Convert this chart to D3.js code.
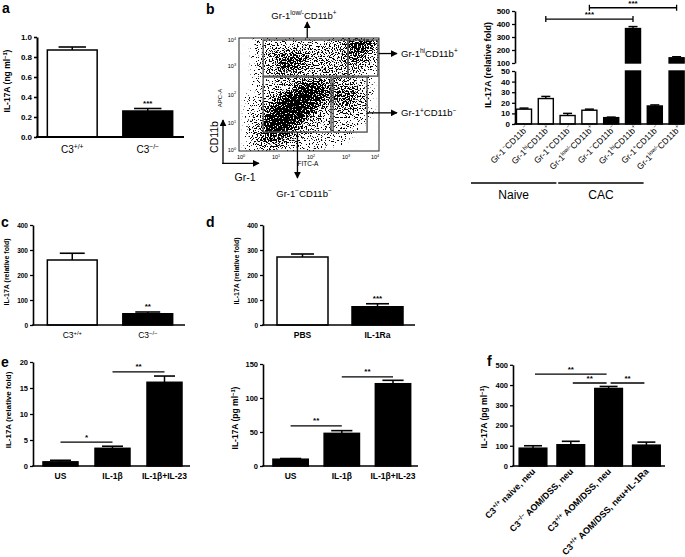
<!DOCTYPE html>
<html><head><meta charset="utf-8">
<script src="https://cdn.jsdelivr.net/npm/d3@7"></script>
<style>body{margin:0;background:#fff}svg{display:block}</style>
</head><body><svg id="c" width="685" height="557"></svg>
<script>
// ---------------- DATA ----------------
// panel a
const aCats = ["C3^{+/+}", "C3^{−/−}"];
const aVals = [0.87, 0.26];
const aErrs = [0.03, 0.025];
const aTicks = [0, 0.2, 0.4, 0.6, 0.8, 1.0];
const aStars = ["", "***"];
// panel b (flow cytometry) - density grid, rows top(high CD11b) -> bottom, cols low -> high Gr-1 (log10 0..4)
const flowTicks = [1, 10, 100, 1000, 10000];
const flowDensity = [
  [0,0,1,1,1,1,1,1,1,1,1,1,1,2,2,3,4,4,4,3],
  [0,0,1,1,2,2,2,2,2,2,2,2,2,2,2,3,4,4,3,2],
  [0,0,1,1,2,3,3,3,3,3,2,2,2,2,2,3,3,3,2,1],
  [0,0,1,2,2,3,4,4,3,3,2,2,2,2,2,2,3,2,2,1],
  [0,0,1,1,2,3,3,3,3,2,2,2,2,2,2,2,2,2,1,1],
  [0,0,1,1,1,2,2,2,2,2,2,2,2,2,2,2,2,1,1,0],
  [0,0,1,1,1,2,2,2,3,4,4,4,3,2,2,2,2,1,1,0],
  [0,0,1,1,2,2,2,3,4,5,5,4,3,3,3,3,3,2,1,0],
  [0,1,1,1,2,3,4,5,5,5,5,4,3,3,3,3,3,2,1,0],
  [0,1,1,2,3,4,5,5,5,5,4,3,2,2,3,3,2,2,1,0],
  [0,1,1,2,4,5,5,5,5,4,3,2,2,2,2,2,2,1,1,0],
  [0,1,1,3,5,5,5,5,4,3,2,2,1,1,1,1,1,1,0,0],
  [0,1,2,3,5,5,5,4,3,2,2,1,1,1,1,1,1,0,0,0],
  [0,1,2,3,4,4,4,3,2,2,1,1,1,1,1,1,0,0,0,0],
  [0,1,2,3,3,3,3,2,2,1,1,1,1,1,1,0,0,0,0,0],
  [0,1,1,2,2,2,2,1,1,1,1,1,0,0,0,0,0,0,0,0]
];
// gates in log10 units: [x0,x1,y0,y1]
const flowGates = [[0.69,3.11,2.65,3.93],[3.11,3.97,2.65,3.93],[0.69,2.63,0.67,2.62],[2.69,3.66,0.67,2.62]];
const flowLabels = ["Gr-1^{low/-}CD11b^{+}", "Gr-1^{hi}CD11b^{+}", "Gr-1^{+}CD11b^{−}", "Gr-1^{−}CD11b^{−}"];
// panel b bars
const bCats = ["Gr-1^{−}CD11b^{−}","Gr-1^{hi}CD11b^{+}","Gr-1^{+}CD11b^{−}","Gr-1^{low/-}CD11b^{+}",
               "Gr-1^{−}CD11b^{−}","Gr-1^{hi}CD11b^{+}","Gr-1^{+}CD11b^{−}","Gr-1^{low/-}CD11b^{+}"];
const bVals = [14, 24, 8, 13, 6, 365, 17, 140];
const bErrs = [1, 2, 2, 1, 0.5, 15, 1, 8];
const bTicksLo = [0, 10, 20, 30, 40, 50];
const bTicksHi = [100, 200, 300, 400, 500];
const bGroups = ["Naive", "CAC"];
const bSig = [[1, 5, 438, "***"], [3, 7, 525, "***"]];
// panel c
const cCats = ["C3^{+/+}", "C3^{−/−}"];
const cVals = [260, 45];
const cErrs = [27, 7];
const cTicks = [0, 100, 200, 300, 400];
const cStars = ["", "**"];
// panel d
const dCats = ["PBS", "IL-1Ra"];
const dVals = [272, 73];
const dErrs = [12, 12];
const dTicks = [0, 100, 200, 300, 400];
const dStars = ["", "***"];
// panel e
const eCats = ["US", "IL-1β", "IL-1β+IL-23"];
const eLVals = [0.8, 3.4, 16.1];
const eLErrs = [0.3, 0.4, 1.2];
const eLTicks = [0, 5, 10, 15, 20];
const eLSig = [[0, 1, 4.6, "*"], [1, 2, 18.1, "**"]];
const eRVals = [10, 48, 121];
const eRErrs = [1, 4, 5];
const eRTicks = [0, 50, 100, 150];
const eRSig = [[0, 1, 59, "**"], [1, 2, 131, "**"]];
// panel f
const fCats = ["C3^{+/+} naive, neu", "C3^{−/−} AOM/DSS, neu", "C3^{+/+} AOM/DSS, neu", "C3^{+/+} AOM/DSS, neu+IL-1Ra"];
const fVals = [88, 105, 383, 103];
const fErrs = [12, 17, 10, 15];
const fTicks = [0, 100, 200, 300, 400, 500];
const fSig = [[0, 2, 454, "**"], [1, 2, 410, "**"], [2, 3, 410, "**"]];

// ---------------- HELPERS ----------------
const FONT = "Arial, 'Liberation Sans', Helvetica, sans-serif";
const svg = d3.select("#c").attr("font-family", FONT);
const WHITE = "#fff", BLACK = "#000";

function rich(t, str, fs) {
  const re = /\^\{([^}]*)\}/g; let last = 0, m; const parts = [];
  while ((m = re.exec(str))) { if (m.index > last) parts.push([str.slice(last, m.index), false]); parts.push([m[1], true]); last = re.lastIndex; }
  if (last < str.length) parts.push([str.slice(last), false]);
  let cur = 0;
  parts.forEach(([s, sup]) => {
    const ts = t.append("tspan").text(s);
    const target = sup ? -fs * 0.38 : 0;
    if (target !== cur) { ts.attr("dy", target - cur); cur = target; }
    if (sup) ts.attr("font-size", fs * 0.68);
  });
  return t;
}
function txt(x, y, str, fs, opt = {}) {
  const t = svg.append("text").attr("x", x).attr("y", y).attr("font-size", fs)
    .attr("text-anchor", opt.anchor || "middle").attr("font-weight", opt.bold === false ? "normal" : "bold");
  if (opt.rot !== undefined) t.attr("transform", `rotate(${opt.rot},${x},${y})`);
  return rich(t, str, fs);
}
function letter(x, y, s) { svg.append("text").attr("x", x).attr("y", y).attr("font-size", 14).attr("font-weight", "bold").text(s); }
function styleAxis(ax, fs, sw) {
  ax.attr("font-family", FONT);
  ax.select(".domain").attr("stroke-width", sw);
  ax.selectAll(".tick line").attr("stroke-width", sw * 0.8);
  ax.selectAll(".tick text").attr("font-size", fs).attr("font-weight", "bold").attr("fill", "#000");
}

function barChart(o) {
  const g = svg.append("g");
  const n = o.vals.length;
  const x = d3.scaleBand().domain(d3.range(n)).range(o.xRange).paddingInner(o.pad).paddingOuter(o.pad / 2);
  const y = d3.scaleLinear().domain(o.yDomain).range(o.yRange);
  const sw = o.sw || 1.6;
  const capW = x.bandwidth() * (o.cap || 0.55);
  o.vals.forEach((v, i) => {
    const cx = x(i) + x.bandwidth() / 2;
    g.append("line").attr("x1", cx).attr("x2", cx).attr("y1", y(v)).attr("y2", y(v + o.errs[i])).attr("stroke", "#000").attr("stroke-width", 1.5);
    g.append("line").attr("x1", cx - capW / 2).attr("x2", cx + capW / 2).attr("y1", y(v + o.errs[i])).attr("y2", y(v + o.errs[i])).attr("stroke", "#000").attr("stroke-width", 1.6);
  });
  g.selectAll("rect.bar").data(o.vals).join("rect").attr("class", "bar")
    .attr("x", (d, i) => x(i)).attr("width", x.bandwidth())
    .attr("y", d => y(d)).attr("height", d => y(0) - y(d))
    .attr("fill", (d, i) => o.fills[i]).attr("stroke", "#000").attr("stroke-width", 1.5);
  const ax = g.append("g").attr("transform", `translate(${o.axisX},0)`)
    .call(d3.axisLeft(y).tickValues(o.ticks).tickFormat(o.fmt || d3.format("")).tickSize(3).tickSizeOuter(0).tickPadding(2));
  styleAxis(ax, o.tickFs, sw);
  g.append("line").attr("x1", o.axisX - sw / 2).attr("x2", o.axisEnd).attr("y1", y(0)).attr("y2", y(0)).attr("stroke", "#000").attr("stroke-width", sw);
  if (o.stars) o.stars.forEach((s, i) => {
    if (!s) return;
    svg.append("text").attr("x", x(i) + x.bandwidth() / 2).attr("y", y(o.vals[i] + o.errs[i]) - 3)
      .attr("text-anchor", "middle").attr("font-size", o.starFs || 8).attr("font-weight", "bold").text(s);
  });
  if (o.sig) o.sig.forEach(([i, j, v, s]) => {
    const c1 = x(i) + x.bandwidth() / 2 + (o.sigInset || 0), c2 = x(j) + x.bandwidth() / 2 - (o.sigInset || 0);
    g.append("line").attr("x1", c1).attr("x2", c2).attr("y1", y(v)).attr("y2", y(v)).attr("stroke", "#000").attr("stroke-width", 1.4);
    g.append("text").attr("x", (c1 + c2) / 2).attr("y", y(v) - 2.5).attr("text-anchor", "middle")
      .attr("font-size", o.starFs || 8).attr("font-weight", "bold").text(s);
  });
  if (o.cats && o.labelY) o.cats.forEach((c, i) => txt(x(i) + x.bandwidth() / 2, o.labelY, c, o.labelFs, { bold: o.labelBold }));
  return { g, x, y };
}

// ---------------- PANEL a ----------------
letter(2, 13, "a");
barChart({ vals: aVals, errs: aErrs, fills: [WHITE, BLACK], yDomain: [0, 1], yRange: [137, 37], ticks: aTicks,
  fmt: d3.format(".1f"), xRange: [34.5, 185.5], pad: 0.34, axisX: 37, axisEnd: 184, tickFs: 8, sw: 2,
  stars: aStars, cats: aCats, labelY: 153, labelFs: 10, labelBold: false });
txt(10, 81, "IL-17A (ng ml^{−1})", 8.5, { rot: -90 });

// ---------------- PANEL b flow ----------------
letter(206, 14, "b");
const defs = svg.append("defs");
defs.append("marker").attr("id", "arr").attr("viewBox", "0 0 10 10").attr("refX", 9).attr("refY", 5)
  .attr("markerUnits", "userSpaceOnUse").attr("markerWidth", 7).attr("markerHeight", 7).attr("orient", "auto")
  .append("path").attr("d", "M0,0L10,5L0,10z").attr("fill", "#000");
const fx = d3.scaleLog().domain([1, 1e4]).range([239, 379]);
const fy = d3.scaleLog().domain([1, 1e4]).range([151, 38]);
const filt = defs.append("filter").attr("id", "speckle").attr("filterUnits", "userSpaceOnUse")
  .attr("x", 239).attr("y", 38).attr("width", 140).attr("height", 113).attr("color-interpolation-filters", "sRGB");
filt.append("feGaussianBlur").attr("in", "SourceGraphic").attr("stdDeviation", 2.6).attr("result", "dens");
filt.append("feTurbulence").attr("type", "fractalNoise").attr("baseFrequency", 0.75).attr("numOctaves", 1).attr("seed", 7).attr("result", "noise");
filt.append("feColorMatrix").attr("in", "noise").attr("type", "matrix")
  .attr("values", "0 0 0 0 0  0 0 0 0 0  0 0 0 0 0  3 0 0 0 -1").attr("result", "n2");
filt.append("feComposite").attr("in", "dens").attr("in2", "n2").attr("operator", "arithmetic")
  .attr("k1", 0).attr("k2", 1).attr("k3", -1).attr("k4", 0.5).attr("result", "diff");
const ct = filt.append("feComponentTransfer").attr("in", "diff").attr("result", "thr");
ct.append("feFuncA").attr("type", "linear").attr("slope", 14).attr("intercept", -7);
filt.append("feFlood").attr("flood-color", "#000").attr("result", "blk");
filt.append("feComposite").attr("in", "blk").attr("in2", "thr").attr("operator", "in");

const nR = flowDensity.length, nC = flowDensity[0].length;
const cells = [];
flowDensity.forEach((row, r) => row.forEach((v, c) => cells.push({ r, c, v })));
svg.append("g").attr("filter", "url(#speckle)").selectAll("rect").data(cells).join("rect")
  .attr("x", d => fx(10 ** (d.c * 4 / nC))).attr("width", d => fx(10 ** ((d.c + 1) * 4 / nC)) - fx(10 ** (d.c * 4 / nC)))
  .attr("y", d => fy(10 ** (4 - d.r * 4 / nR))).attr("height", d => fy(10 ** (4 - (d.r + 1) * 4 / nR)) - fy(10 ** (4 - d.r * 4 / nR)))
  .attr("fill", "#000").attr("fill-opacity", d => d.v / 5);
svg.append("rect").attr("x", 239).attr("y", 38).attr("width", 140).attr("height", 113).attr("fill", "none").attr("stroke", "#222").attr("stroke-width", 1);
svg.selectAll("rect.gate").data(flowGates).join("rect").attr("class", "gate")
  .attr("x", d => fx(10 ** d[0])).attr("width", d => fx(10 ** d[1]) - fx(10 ** d[0]))
  .attr("y", d => fy(10 ** d[3])).attr("height", d => fy(10 ** d[2]) - fy(10 ** d[3]))
  .attr("fill", "none").attr("stroke", "#555").attr("stroke-width", 1.4);
flowTicks.forEach((v, i) => {
  txt(fx(v) + (i === 4 ? -4 : 2), 159, "10^{" + i + "}", 5.5, { bold: false });
  txt(236, fy(v) + 2 - (i === 0 ? 1 : 0) + (i === 4 ? 2 : 0), "10^{" + i + "}", 5.5, { bold: false, anchor: "end" });
});
txt(222, 98, "APC-A", 6, { rot: -90, bold: false });
txt(308, 166, "FITC-A", 6.5, { bold: false });
function arrow(x1, y1, x2, y2) {
  svg.append("line").attr("x1", x1).attr("y1", y1).attr("x2", x2).attr("y2", y2).attr("stroke", "#000").attr("stroke-width", 1.3).attr("marker-end", "url(#arr)");
}
arrow(fx(10 ** 1.95), fy(1e4), fx(10 ** 1.95), 22);
arrow(fx(1e4), fy(10 ** 3.45), 397, fy(10 ** 3.45));
arrow(fx(10 ** flowGates[3][1]), fy(10 ** 1.35), 397, fy(10 ** 1.35));
arrow(fx(10 ** 1.67), fy(10 ** flowGates[2][2]), fx(10 ** 1.67), 178);
txt(304, 19, flowLabels[0], 9.5, { bold: false });
txt(401, fy(10 ** 3.45) + 3.5, flowLabels[1], 9.5, { bold: false, anchor: "start" });
txt(401, fy(10 ** 1.35) + 3.5, flowLabels[2], 9.5, { bold: false, anchor: "start" });
txt(304, 197, flowLabels[3], 9.5, { bold: false });
arrow(223, 164, 223, 120);
arrow(222.3, 163.3, 259, 163.3);
txt(218, 137, "CD11b", 10.5, { rot: -90, bold: false });
txt(245, 181, "Gr-1", 10.5, { bold: false });

// ---------------- PANEL b bars ----------------
(function () {
  const g = svg.append("g");
  const x = d3.scaleBand().domain(d3.range(bVals.length)).range([513.1, 687.5]).paddingInner(0.31).paddingOuter(0.155);
  const yLo = d3.scaleLinear().domain([0, 50]).range([124, 71]);
  const yHi = d3.scaleLinear().domain([100, 500]).range([63, 11]);
  const fills = [WHITE, WHITE, WHITE, WHITE, BLACK, BLACK, BLACK, BLACK];
  const bw = x.bandwidth();
  bVals.forEach((v, i) => {
    const cx = x(i) + bw / 2, top = v + bErrs[i];
    const ys = top > 50 ? yHi : yLo;
    g.append("line").attr("x1", cx).attr("x2", cx).attr("y1", ys(v)).attr("y2", ys(top)).attr("stroke", "#000").attr("stroke-width", 1.4);
    g.append("line").attr("x1", cx - bw * 0.3).attr("x2", cx + bw * 0.3).attr("y1", ys(top)).attr("y2", ys(top)).attr("stroke", "#000").attr("stroke-width", 1.5);
    if (v <= 50) {
      g.append("rect").attr("x", x(i)).attr("width", bw).attr("y", yLo(v)).attr("height", yLo(0) - yLo(v))
        .attr("fill", fills[i]).attr("stroke", "#000").attr("stroke-width", 1.4);
    } else {
      g.append("rect").attr("x", x(i)).attr("width", bw).attr("y", yLo(50)).attr("height", yLo(0) - yLo(50))
        .attr("fill", fills[i]).attr("stroke", "#000").attr("stroke-width", 1.4);
      g.append("rect").attr("x", x(i)).attr("width", bw).attr("y", yHi(v)).attr("height", yHi(100) - yHi(v))
        .attr("fill", fills[i]).attr("stroke", "#000").attr("stroke-width", 1.4);
    }
  });
  [[yLo, bTicksLo], [yHi, bTicksHi]].forEach(([s, t]) => {
    const ax = g.append("g").attr("transform", "translate(515,0)")
      .call(d3.axisLeft(s).tickValues(t).tickSize(3).tickSizeOuter(0).tickPadding(2));
    styleAxis(ax, 8, 1.6);
  });
  g.append("line").attr("x1", 514.2).attr("x2", 684).attr("y1", 124).attr("y2", 124).attr("stroke", "#000").attr("stroke-width", 1.6);
  bSig.forEach(([i, j, v, s]) => {
    const c1 = x(i) + bw / 2, c2 = x(j) + bw / 2, yy = yHi(v);
    g.append("path").attr("d", `M${c1},${yy - 3}V${yy + 3}M${c1},${yy}H${c2}M${c2},${yy - 3}V${yy + 3}`)
      .attr("stroke", "#000").attr("stroke-width", 1.3).attr("fill", "none");
    g.append("text").attr("x", (c1 + c2) / 2).attr("y", yy - 2).attr("text-anchor", "middle").attr("font-size", 8).attr("font-weight", "bold").text(s);
  });
  bCats.forEach((c, i) => {
    const cx = x(i) + bw / 2 + 5;
    txt(cx, 129, c, 8.5, { rot: -45, anchor: "end", bold: false });
  });
  bGroups.forEach((gname, k) => {
    const x1 = x(k * 4) + bw / 2 - 53, x2 = x(k * 4 + 3) + bw / 2 - 33;
    g.append("line").attr("x1", x1).attr("x2", x2).attr("y1", 183).attr("y2", 183).attr("stroke", "#000").attr("stroke-width", 1.5);
    txt((x1 + x2) / 2, 199, gname, 12, { bold: false });
  });
  txt(491, 65, "IL-17A (relative fold)", 9, { rot: -90 });
})();

// ---------------- PANEL c ----------------
letter(1, 227, "c");
barChart({ vals: cVals, errs: cErrs, fills: [WHITE, BLACK], yDomain: [0, 400], yRange: [325, 225], ticks: cTicks,
  xRange: [34.5, 185.5], pad: 0.34, axisX: 33, axisEnd: 185, tickFs: 6.5, sw: 1.6,
  stars: cStars, cats: cCats, labelY: 338, labelFs: 8.5, labelBold: false, cap: 0.5 });
txt(9, 272, "IL-17A (relative fold)", 7, { rot: -90 });

// ---------------- PANEL d ----------------
letter(206, 227, "d");
barChart({ vals: dVals, errs: dErrs, fills: [WHITE, BLACK], yDomain: [0, 400], yRange: [325, 225], ticks: dTicks,
  xRange: [265, 415], pad: 0.32, axisX: 263, axisEnd: 415, tickFs: 6.5, sw: 1.6,
  stars: dStars, cats: dCats, labelY: 338, labelFs: 8.5, labelBold: true, cap: 0.45 });
txt(239, 271, "IL-17A (relative fold)", 7, { rot: -90 });

// ---------------- PANEL e ----------------
letter(1, 367, "e");
barChart({ vals: eLVals, errs: eLErrs, fills: [BLACK, BLACK, BLACK], yDomain: [0, 20], yRange: [466, 362], ticks: eLTicks,
  xRange: [34.5, 190.5], pad: 0.327, axisX: 33, axisEnd: 190, tickFs: 7.5, sw: 1.6,
  sig: eLSig, cats: eCats, labelY: 479, labelFs: 8.5, labelBold: true, cap: 0.6 });
txt(11, 410, "IL-17A (relative fold)", 8, { rot: -90 });
barChart({ vals: eRVals, errs: eRErrs, fills: [BLACK, BLACK, BLACK], yDomain: [0, 150], yRange: [466, 364], ticks: eRTicks,
  xRange: [265, 418.6], pad: 0.31, axisX: 263, axisEnd: 418, tickFs: 7.5, sw: 1.6,
  sig: eRSig, cats: eCats, labelY: 479, labelFs: 8.5, labelBold: true, cap: 0.6 });
txt(238, 418, "IL-17A (pg ml^{−1})", 8.5, { rot: -90 });

// ---------------- PANEL f ----------------
letter(487, 366, "f");
const fChart = barChart({ vals: fVals, errs: fErrs, fills: [BLACK, BLACK, BLACK, BLACK], yDomain: [0, 500], yRange: [466, 364.8], ticks: fTicks,
  xRange: [514.1, 665.3], pad: 0.27, axisX: 513, axisEnd: 665, tickFs: 7.5, sw: 1.6,
  sig: fSig, sigInset: 2, cap: 0.65 });
fCats.forEach((c, i) => {
  const cx = fChart.x(i) + fChart.x.bandwidth() / 2 + 3;
  txt(cx, 472, c, 9, { rot: -45, anchor: "end", bold: true });
});
txt(487, 417, "IL-17A (pg ml^{−1})", 8.5, { rot: -90 });
</script></body></html>
